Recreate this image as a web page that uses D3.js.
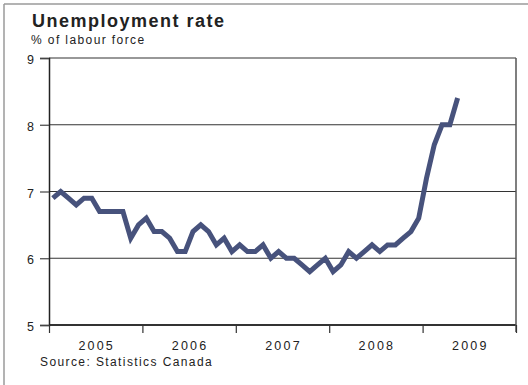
<!DOCTYPE html>
<html lang="en">
  <head>
    <meta charset="utf-8">
    <script type="text/javascript" src="https://d3js.org/d3.v7.min.js"></script>
    <style>
      body { margin: 0; background: white; }
      text { font-family: "Liberation Sans", Arial, sans-serif; fill: #222; }
    </style>
  </head>
  <body>
    <script type="text/javascript">

    // Monthly unemployment rate, Jan 2005 - May 2009
    var years = ["2005", "2006", "2007", "2008", "2009"];
    var rate2005 = [6.9, 7.0, 6.9, 6.8, 6.9, 6.9, 6.7, 6.7, 6.7, 6.7, 6.3, 6.5];
    var rate2006 = [6.6, 6.4, 6.4, 6.3, 6.1, 6.1, 6.4, 6.5, 6.4, 6.2, 6.3, 6.1];
    var rate2007 = [6.2, 6.1, 6.1, 6.2, 6.0, 6.1, 6.0, 6.0, 5.9, 5.8, 5.9, 6.0];
    var rate2008 = [5.8, 5.9, 6.1, 6.0, 6.1, 6.2, 6.1, 6.2, 6.2, 6.3, 6.4, 6.6];
    var rate2009 = [7.2, 7.7, 8.0, 8.0, 8.4];
    var yTicks = [5, 6, 7, 8, 9];

    var rates = rate2005.concat(rate2006, rate2007, rate2008, rate2009);
    var dataset = rates.map(function(v, i) { return {month: i, rate: v}; });

    var svgW = 528, svgH = 385;
    // plot area edges (note: "top" is reserved on window, so use other names)
    var plotL = 49, plotR = 516, plotT = 58, plotB = 325;

    var svg = d3.select("body").append("svg")
                .attr("width", svgW)
                .attr("height", svgH);

    // Outer frame (top and left edge)
    svg.append("line").attr("x1", 4).attr("x2", svgW).attr("y1", 4).attr("y2", 4)
        .attr("stroke", "#9a9a9a").attr("stroke-width", 1.5);
    svg.append("line").attr("x1", 4).attr("x2", 4).attr("y1", 4).attr("y2", svgH)
        .attr("stroke", "#9a9a9a").attr("stroke-width", 1.5);

    // Scales
    var xScale = d3.scaleLinear()
                    .domain([0, years.length * 12])
                    .range([plotL, plotR]);
    var yScale = d3.scaleLinear()
                    .domain([5, 9])
                    .range([plotB, plotT]);

    // Gridlines
    svg.append("g")
        .selectAll("line")
        .data(yTicks)
        .enter()
        .append("line")
          .attr("x1", plotL)
          .attr("x2", plotR)
          .attr("y1", function(d) { return yScale(d); })
          .attr("y2", function(d) { return yScale(d); })
          .attr("stroke", "#333")
          .attr("stroke-width", function(d) { return d == 5 ? 2 : 1.2; });

    // Y axis
    var yAxis = d3.axisLeft(yScale).tickValues(yTicks).tickSize(9).tickPadding(6).tickFormat(d3.format("d"));
    var yG = svg.append("g")
        .attr("transform", "translate(" + plotL + ",0)")
        .call(yAxis);
    yG.select(".domain").attr("stroke", "#222").attr("stroke-width", 1.5);
    yG.selectAll(".tick line").attr("stroke", "#444").attr("stroke-width", 1.2);
    yG.selectAll(".tick text").style("font-size", "12.5px").attr("fill", "#222").attr("dy", "0.45em");

    // Right edge of the plot
    svg.append("line")
        .attr("x1", plotR).attr("x2", plotR)
        .attr("y1", plotT).attr("y2", plotB + 7)
        .attr("stroke", "#555").attr("stroke-width", 1.5);

    // X axis: ticks at year boundaries, labels centred in each year
    var xAxis = d3.axisBottom(xScale)
                  .tickValues(d3.range(0, years.length * 12 + 1, 12))
                  .tickSize(8)
                  .tickFormat("");
    var xG = svg.append("g")
        .attr("transform", "translate(0," + plotB + ")")
        .call(xAxis);
    xG.select(".domain").remove();
    xG.selectAll(".tick line").attr("stroke", "#333").attr("stroke-width", 1.2);

    svg.append("g")
        .selectAll("text")
        .data(years)
        .enter()
        .append("text")
          .attr("x", function(d, i) { return xScale(i * 12 + 6) + 1; })
          .attr("y", 349.5)
          .attr("text-anchor", "middle")
          .style("font-size", "12.5px")
          .style("letter-spacing", "2.2px")
          .text(function(d) { return d; });

    // Line
    var line = d3.line()
                 .x(function(d) { return xScale(d.month + 0.5); })
                 .y(function(d) { return yScale(d.rate); });

    svg.append("path")
        .datum(dataset)
        .attr("d", line)
        .attr("fill", "none")
        .attr("stroke", "#47527c")
        .attr("stroke-width", 5)
        .attr("stroke-linejoin", "miter");

    // Titles
    svg.append("text")
        .attr("x", 32)
        .attr("y", 27)
        .style("font-size", "18px")
        .style("font-weight", "bold")
        .style("letter-spacing", "1.5px")
        .attr("fill", "#111")
        .text("Unemployment rate");
    svg.append("text")
        .attr("x", 31)
        .attr("y", 44)
        .style("font-size", "12px")
        .style("letter-spacing", "1.4px")
        .text("% of labour force");
    svg.append("text")
        .attr("x", 40)
        .attr("y", 366)
        .style("font-size", "12px")
        .style("letter-spacing", "1.4px")
        .text("Source: Statistics Canada");

    </script>
  </body>
</html>
